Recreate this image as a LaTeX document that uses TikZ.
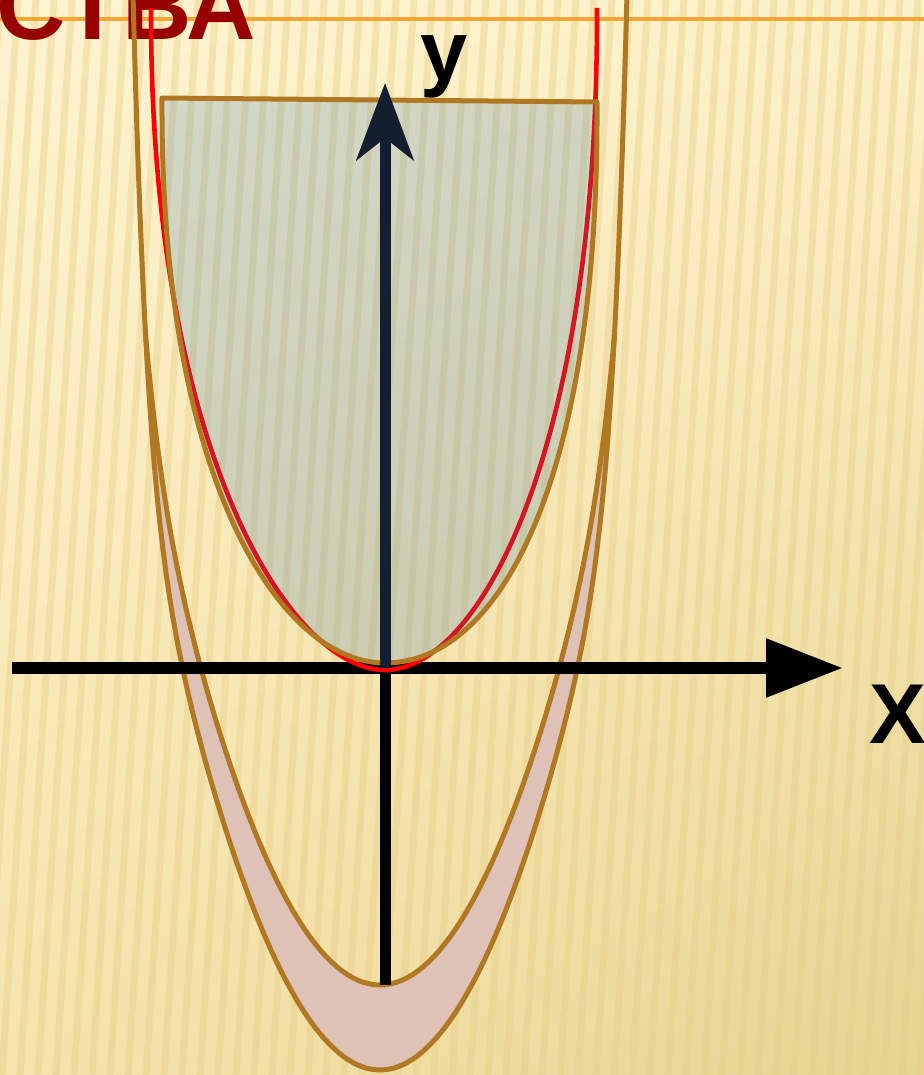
\documentclass[tikz,border=0pt]{standalone}
\usepackage{fontspec}
\setmainfont{Liberation Sans}
\usetikzlibrary{arrows.meta, shadings}
\definecolor{bgTL}{RGB}{254,244,208}
\definecolor{bgTR}{RGB}{253,241,200}
\definecolor{bgBL}{RGB}{246,228,172}
\definecolor{bgBR}{RGB}{232,212,145}
\definecolor{stripecol}{RGB}{230,206,135}
\definecolor{rulecol}{RGB}{245,166,50}
\definecolor{titlered}{RGB}{150,0,0}
\definecolor{brownline}{RGB}{176,120,34}
\definecolor{bandpink}{RGB}{222,194,182}
\definecolor{regionblue}{RGB}{40,108,178}
\definecolor{redcurve}{RGB}{255,0,0}
\definecolor{navy}{RGB}{19,31,48}
\tikzset{
  curve/.style={draw=brownline, line width=2.5pt, line join=round},
  band/.style={fill=bandpink},
  region/.style={curve, fill=regionblue, fill opacity=0.2},
  redline/.style={draw=redcurve, line width=2.3pt},
  stripe/.style={draw=stripecol, line width=3.5pt, opacity=0.4},
  xaxis/.style={line width=6pt, -{Triangle[length=38.5pt, width=28pt]}},
  yaxislow/.style={line width=5.5pt},
  yaxis/.style={draw=navy, line width=5.5pt, -{Stealth[length=38.5pt, width=28.5pt, inset=11pt]}},
  label/.style={inner sep=0pt, font=\fontsize{42.5pt}{42.5pt}\selectfont\bfseries},
  title/.style={inner sep=0pt, text=titlered, font=\fontsize{48pt}{48pt}\selectfont\bfseries}
}
\begin{document}
\begin{tikzpicture}[x=0.5pt, y=-0.5pt, variable=\t, samples=121]
    \useasboundingbox (0,0) rectangle (924,1075);
    \clip (0,0) rectangle (924,1075);
    % background
    \shade[upper left=bgTL, upper right=bgTR, lower left=bgBL, lower right=bgBR] (0,0) rectangle (924,1075);
    \foreach \i in {0,...,56} {
        \draw[stripe] (\i*18,0) -- (\i*18-70,1075);
    }
    \draw[rulecol, line width=2pt] (0,19) -- (924,19);
    \node[title, anchor=base west] (head) at (-4,40) {СТВА};

    \coordinate (xl) at (12,668);
    \coordinate (xr) at (843,668);
    \coordinate (o) at (385,668);
    \coordinate (yb) at (385,985);
    \coordinate (yt) at (385,83);

    % crescent between the two lower parabolas
    \fill[band] plot[domain=-71.6:71.6] ({380+247*sin(\t)}, {1070-616.2*sin(\t)^2-460*abs(sin(\t))^18})
        -- plot[domain=80:-80] ({380+238*sin(\t)}, {985-555.1*sin(\t)^2-137*abs(sin(\t))^14}) -- cycle;
    \draw[curve] plot[domain=-90:90] ({380+247*sin(\t)}, {1070-616.2*sin(\t)^2-460*abs(sin(\t))^18});
    \draw[curve] plot[domain=-80:80] ({380+238*sin(\t)}, {985-555.1*sin(\t)^2-137*abs(sin(\t))^14});

    \draw[xaxis] (xl) -- (xr);
    \draw[yaxislow] (yb) -- (o);

    \draw[redline] (151,8) .. controls (150,450) and (290,670) .. (385,670)
        .. controls (480,670) and (598,450) .. (597,8);

    \draw[region] (162,98) -- (597,102) .. controls (599,480) and (500,663) .. (385,663)
        .. controls (280,663) and (160,480) .. (162,98) -- cycle;

    \draw[yaxis] (o) -- (yt);

    \node[label, anchor=base west] (ylab) at (420,81) {y};
    \node[label, anchor=base west] (xlab) at (869,743) {X};
\end{tikzpicture}
\end{document}
